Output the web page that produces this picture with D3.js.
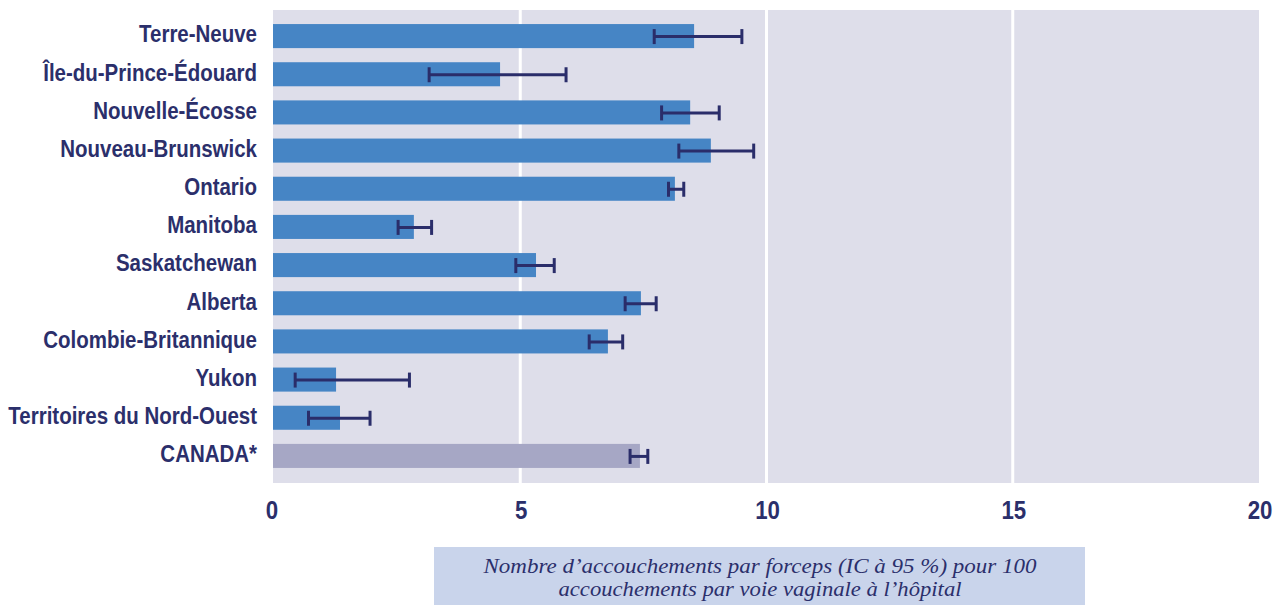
<!DOCTYPE html>
<html lang="fr">
<head>
<meta charset="utf-8">
<script src="https://cdn.jsdelivr.net/npm/d3@7"></script>
<style>
  html, body { margin: 0; padding: 0; background: #ffffff; }
  svg { display: block; }
  .cat, .tick-label {
    font-family: "Liberation Sans", Arial, "DejaVu Sans", sans-serif;
    font-weight: bold;
    fill: #2b2f6b;
  }
  .axis-title {
    font-family: "Liberation Serif", "DejaVu Serif", serif;
    font-style: italic;
    fill: #2b2f6b;
  }
</style>
</head>
<body>
<svg id="chart" width="1276" height="605"></svg>
<script>
// Provinces / territories, forceps deliveries per 100 vaginal hospital deliveries
const categories = [
  "Terre-Neuve", "Île-du-Prince-Édouard", "Nouvelle-Écosse", "Nouveau-Brunswick",
  "Ontario", "Manitoba", "Saskatchewan", "Alberta", "Colombie-Britannique",
  "Yukon", "Territoires du Nord-Ouest", "CANADA*"
];
const rates   = [8.53, 4.59, 8.45, 8.87, 8.14, 2.84, 5.32, 7.45, 6.78, 1.26, 1.34, 7.43];
const ciLow   = [7.72, 3.15, 7.87, 8.22, 8.01, 2.52, 4.91, 7.13, 6.40, 0.43, 0.70, 7.23];
const ciHigh  = [9.50, 5.93, 9.04, 9.74, 8.32, 3.20, 5.69, 7.76, 7.08, 2.75, 1.95, 7.59];
const tickValues = [0, 5, 10, 15, 20];
const titleLines = [
  "Nombre d\u2019accouchements par forceps (IC à 95 %) pour 100",
  "accouchements par voie vaginale à l\u2019hôpital"
];

const svg = d3.select("#chart");

const plot = { left: 273, right: 1259, top: 10, bottom: 483 };

const x = d3.scaleLinear().domain([0, 20]).range([274, 1259]);
const y = d3.scaleBand()
  .domain(categories)
  .range([17, 475])
  .paddingInner(0.37)
  .paddingOuter(0.185);

// condensed look: squeeze glyphs horizontally around an anchor point
const condense = 0.89;

// plot background
svg.append("rect")
  .attr("x", plot.left).attr("y", plot.top)
  .attr("width", plot.right - plot.left)
  .attr("height", plot.bottom - plot.top)
  .attr("fill", "#dedeea");

// vertical grid lines
svg.append("g")
  .selectAll("line")
  .data(tickValues.filter(v => v > 0 && v < 20))
  .join("line")
  .attr("x1", d => x(d)).attr("x2", d => x(d))
  .attr("y1", plot.top).attr("y2", plot.bottom)
  .attr("stroke", "#ffffff")
  .attr("stroke-width", 3);

// bars
svg.append("g")
  .selectAll("rect")
  .data(categories)
  .join("rect")
  .attr("x", x(0) - 1)
  .attr("y", d => y(d))
  .attr("width", (d, i) => x(rates[i]) - x(0) + 1)
  .attr("height", y.bandwidth())
  .attr("fill", d => d === "CANADA*" ? "#a6a7c5" : "#4685c5");

// confidence intervals
const eb = svg.append("g")
  .attr("stroke", "#2a2d6a")
  .attr("stroke-width", 3)
  .attr("fill", "none");
categories.forEach((c, i) => {
  const cy = y(c) + y.bandwidth() / 2 + 0.5;
  const capH = 7.5;
  eb.append("line")
    .attr("x1", x(ciLow[i])).attr("x2", x(ciHigh[i]))
    .attr("y1", cy).attr("y2", cy);
  [ciLow[i], ciHigh[i]].forEach(v => {
    eb.append("line")
      .attr("x1", x(v)).attr("x2", x(v))
      .attr("y1", cy - capH).attr("y2", cy + capH);
  });
});

// category labels
const labelX = 257;
svg.append("g")
  .attr("transform", `translate(${labelX},0) scale(${condense},1)`)
  .selectAll("text")
  .data(categories)
  .join("text")
  .attr("class", "cat")
  .attr("x", 0)
  .attr("y", d => y(d) + y.bandwidth() / 2 - 2)
  .attr("dy", "0.36em")
  .attr("text-anchor", "end")
  .attr("font-size", 23)
  .text(d => d);

// x tick labels
svg.append("g")
  .selectAll("g")
  .data(tickValues)
  .join("g")
  .attr("transform", d => `translate(${d === 0 ? x(d) - 2 : x(d) + 1},0) scale(${condense},1)`)
  .append("text")
  .attr("class", "tick-label")
  .attr("x", 0)
  .attr("y", 519)
  .attr("text-anchor", "middle")
  .attr("font-size", 25)
  .text(d => d);

// axis title box
svg.append("rect")
  .attr("x", 434).attr("y", 547)
  .attr("width", 651).attr("height", 58)
  .attr("fill", "#c9d4eb");

const tl = svg.append("g");
const widths = [553, 403];
titleLines.forEach((t, i) => {
  tl.append("text")
    .attr("class", "axis-title")
    .attr("x", 760)
    .attr("y", 573 + i * 23)
    .attr("text-anchor", "middle")
    .attr("font-size", 22)
    .attr("textLength", widths[i])
    .attr("lengthAdjust", "spacingAndGlyphs")
    .text(t);
});
</script>
</body>
</html>
